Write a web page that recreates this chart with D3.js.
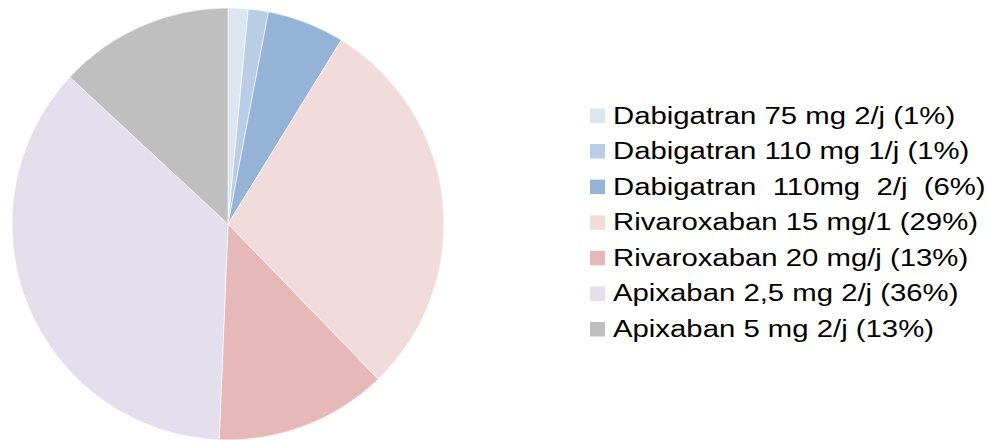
<!DOCTYPE html>
<html>
<head>
<meta charset="utf-8">
<script src="https://cdn.jsdelivr.net/npm/d3@7"></script>
<style>
  html, body { margin: 0; padding: 0; background: #ffffff; }
  svg { display: block; }
</style>
</head>
<body>
<svg id="chart" width="988" height="440"></svg>
<script>
const categories = [
  "Dabigatran 75 mg 2/j (1%)",
  "Dabigatran 110 mg 1/j (1%)",
  "Dabigatran  110mg  2/j  (6%)",
  "Rivaroxaban 15 mg/1 (29%)",
  "Rivaroxaban 20 mg/j (13%)",
  "Apixaban 2,5 mg 2/j (36%)",
  "Apixaban 5 mg 2/j (13%)"
];
const values = [1.5, 1.5, 5.8, 29.0, 12.9, 36.3, 13.1];
const colors = ["#dce6f1", "#b9cde5", "#95b3d7", "#f2dcdb", "#e6b9b8", "#e4dfec", "#bfbfbf"];

const svg = d3.select("#chart");
const cx = 228, cy = 224, R = 216;

const data = categories.map((c, i) => ({ label: c, value: values[i], color: colors[i] }));

const pie = d3.pie().value(d => d.value).sort(null);
const arc = d3.arc().innerRadius(0).outerRadius(R);

const g = svg.append("g").attr("transform", `translate(${cx},${cy})`);
g.selectAll("path")
  .data(pie(data))
  .join("path")
  .attr("d", arc)
  .attr("fill", d => d.data.color)
  .attr("stroke", "#ffffff")
  .attr("stroke-width", 0.6);

// Legend (baselines)
const legendY = d3.scalePoint().domain(categories).range([123.5, 337]);
const lg = svg.append("g");
const rows = lg.selectAll("g.row")
  .data(data)
  .join("g")
  .attr("class", "row")
  .attr("transform", d => `translate(590,${legendY(d.label)})`);

rows.append("rect")
  .attr("x", 0).attr("y", -15)
  .attr("width", 15).attr("height", 14.5)
  .attr("fill", d => d.color);

rows.append("text")
  .attr("transform", "translate(23,0) scale(1.275,1)")
  .attr("x", 0).attr("y", 0)
  .attr("font-family", "'Liberation Sans', Arial, sans-serif")
  .attr("font-size", 23)
  .attr("fill", "#000000")
  .style("white-space", "pre")
  .text(d => d.label);
</script>
</body>
</html>
